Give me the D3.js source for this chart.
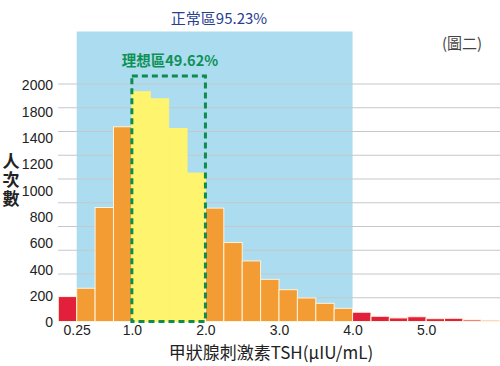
<!DOCTYPE html>
<html><head><meta charset="utf-8">
<script src="https://cdn.jsdelivr.net/npm/d3@7/dist/d3.min.js"></script>
<style>
body{margin:0;background:#fff;}
svg{display:block;}
</style>
</head><body>
<svg id="chart" width="500" height="366"></svg>
<script>
// ---- data ----
const binStarts = [0,0.25,0.5,0.75,1.0,1.25,1.5,1.75,2.0,2.25,2.5,2.75,3.0,3.25,3.5,3.75,4.0,4.25,4.5,4.75,5.0,5.25,5.5,5.75];
const counts    = [210,280,960,1640,1935,1875,1625,1250,955,665,510,355,268,198,153,111,78,44,30,40,24,27,13,10];
const binWidth = 0.25;
const normalRange = [0.25, 4.0];
const idealRange = [1.0, 2.0];
const normalLabel = "正常區95.23%";
const idealLabel = "理想區49.62%";
const figLabel = "(圖二)";
const yTitle = "人次數";
const xTitle = "甲狀腺刺激素TSH(μIU/mL)";
const xTicks = [0.25, 1.0, 2.0, 3.0, 4.0, 5.0];
const xTickLabels = ["0.25","1.0","2.0","3.0","4.0","5.0"];
const gridValues = [0,200,400,600,800,1000,1200,1400,1600,1800,2000];
const yTickLabels = ["0","200","400","600","800","1000","1200","1400","1800","2000"];

const svg = d3.select("#chart");
const x = d3.scaleLinear().domain([0,6]).range([58.3,499.7]);
const y = d3.scaleLinear().domain([0,2000]).range([321.5,84]);
const yLab = d3.scalePoint().domain(yTickLabels).range([322.5,85.5]);

const cjk = "'Noto Sans CJK TC','Noto Sans CJK SC',sans-serif";
const lat = "'Liberation Sans',Arial,'Noto Sans CJK TC',sans-serif";

// normal zone background
svg.append("rect")
  .attr("x", x(normalRange[0])).attr("y", 31.5)
  .attr("width", x(normalRange[1]) - x(normalRange[0]))
  .attr("height", y(0) - 31.5)
  .attr("fill", "#acdcf0");

// gridlines
svg.append("g").selectAll("line").data(gridValues).join("line")
  .attr("x1", 58).attr("x2", 500)
  .attr("y1", d => y(d)).attr("y2", d => y(d))
  .attr("stroke", "#c4c8cc").attr("stroke-width", 1.2);

// bars
function barColor(s){
  if (s < normalRange[0] || s >= normalRange[1]) return "#e2203c";
  if (s >= idealRange[0] && s < idealRange[1]) return "#fff46e";
  return "#f39c33";
}
svg.append("g").selectAll("rect").data(binStarts).join("rect")
  .attr("x", d => x(d))
  .attr("width", d => x(d + binWidth) - x(d))
  .attr("y", (d,i) => y(counts[i]))
  .attr("height", (d,i) => y(0) - y(counts[i]))
  .attr("fill", d => barColor(d))
  .attr("stroke", d => barColor(d) === "#fff46e" ? "#fff46e" : "#fdf3dc")
  .attr("stroke-width", 1);

// ideal zone dashed rectangle
svg.append("rect")
  .attr("x", x(idealRange[0])).attr("y", 76)
  .attr("width", x(idealRange[1]) - x(idealRange[0]))
  .attr("height", y(0) - 76)
  .attr("fill", "none")
  .attr("stroke", "#0d8c4e").attr("stroke-width", 3)
  .attr("stroke-dasharray", "6,4");

// labels
svg.append("text").attr("x", 219).attr("y", 24)
  .attr("text-anchor","middle").attr("font-family", cjk)
  .attr("font-size", 15).attr("fill", "#27408f").text(normalLabel);
svg.append("text").attr("x", 170).attr("y", 66)
  .attr("text-anchor","middle").attr("font-family", cjk).attr("font-weight","bold")
  .attr("font-size", 14.5).attr("fill", "#0e9155").text(idealLabel);
svg.append("text").attr("x", 462).attr("y", 49)
  .attr("text-anchor","middle").attr("font-family", cjk)
  .attr("font-size", 15).attr("fill", "#444").text(figLabel);

// y axis labels
const yAxis = d3.axisLeft(yLab).tickSize(0).tickPadding(0);
const gy = svg.append("g").attr("transform","translate(53,0)").call(yAxis);
gy.select(".domain").remove();
gy.selectAll("text").attr("font-family", lat).attr("font-size", 14).attr("fill","#222");

// x axis labels
const xAxis = d3.axisBottom(x).tickValues(xTicks).tickFormat((d,i) => xTickLabels[i]).tickSize(0).tickPadding(0);
const gx = svg.append("g").attr("transform","translate(0,325)").call(xAxis);
gx.select(".domain").remove();
gx.selectAll("text").attr("font-family", lat).attr("font-size", 14).attr("fill","#222");

// axis titles
svg.append("text").attr("x", 271).attr("y", 359)
  .attr("text-anchor","middle").attr("font-family", cjk)
  .attr("font-size", 17).attr("fill","#222").text(xTitle);
svg.append("text")
  .attr("x", 11).attr("y", 153)
  .attr("style", "writing-mode: vertical-rl; letter-spacing: 1.5px")
  .attr("font-family", cjk).attr("font-weight","bold")
  .attr("font-size", 17).attr("fill","#222").text(yTitle);
</script>
</body></html>
